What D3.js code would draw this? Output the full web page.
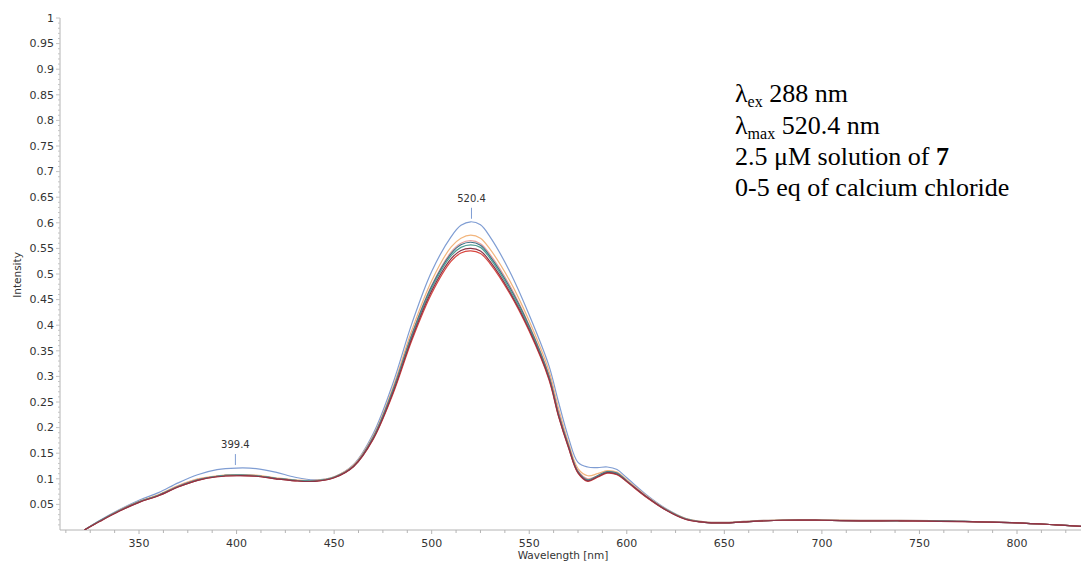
<!DOCTYPE html>
<html>
<head>
<meta charset="utf-8">
<script src="https://cdn.jsdelivr.net/npm/d3@7"></script>
<style>
  body { margin: 0; background: #fff; }
  svg { display: block; }
  .tick-label { font-family: "DejaVu Sans", Verdana, sans-serif; font-size: 11px; fill: #333; }
  .axis-title { font-family: "DejaVu Sans", Verdana, sans-serif; font-size: 10.5px; fill: #333; }
  .note text { font-family: "Liberation Serif", "Times New Roman", serif; font-size: 26px; fill: #000; }
</style>
</head>
<body>
<div id="chart"></div>
<script>
"use strict";

var wavelengths = [322, 330, 340, 350, 360, 370, 380, 390, 400, 410, 420, 430, 440, 450, 460, 470, 480, 490, 500, 510,
  515, 520, 525, 530, 540, 550, 560, 565, 570, 575, 580, 585, 590, 595, 600, 610, 620, 630, 640, 650,
  660, 680, 700, 720, 740, 760, 780, 800, 820, 833];

// intensity for each titration step (0-5 eq CaCl2)
var blueSeries = [0, .019, .040, .058, .073, .092, .108, .118, .121, .120, .113, .103, .098, .104, .128, .188, .285, .405, .505, .573,
  .595, .602, .596, .572, .505, .420, .322, .250, .182, .132, .123, .122, .123, .118, .102, .069, .042, .023, .016, .015,
  .017, .020, .020, .019, .019, .018, .016, .014, .010, .007];
var orangeSeries = [0, .018, .039, .056, .069, .087, .100, .106, .108, .107, .102, .098, .097, .104, .127, .184, .277, .392, .487, .553,
  .570, .576, .570, .548, .487, .408, .312, .238, .172, .120, .106, .110, .116, .113, .098, .067, .041, .023, .016, .015,
  .017, .020, .020, .019, .019, .018, .016, .014, .010, .007];
var pinkSeries = [0, .018, .038, .055, .068, .086, .099, .105, .107, .106, .101, .097, .096, .103, .126, .182, .273, .385, .478, .543,
  .560, .565, .559, .538, .478, .400, .305, .232, .168, .116, .100, .106, .114, .111, .096, .066, .040, .022, .015, .014,
  .016, .019, .019, .018, .018, .018, .016, .014, .010, .007];
var slateSeries = [0, .018, .038, .055, .068, .085, .098, .105, .107, .106, .101, .097, .096, .103, .125, .181, .272, .383, .476, .540,
  .557, .562, .556, .534, .474, .398, .302, .227, .166, .114, .098, .106, .114, .111, .096, .065, .040, .022, .015, .014,
  .016, .019, .019, .018, .018, .018, .016, .014, .010, .007];
var tealSeries = [0, .018, .038, .055, .068, .085, .098, .105, .107, .106, .101, .097, .096, .103, .125, .180, .270, .380, .472, .536,
  .552, .557, .552, .530, .470, .395, .300, .225, .165, .113, .097, .105, .113, .110, .095, .065, .040, .022, .015, .014,
  .016, .019, .019, .018, .018, .018, .016, .014, .010, .007];
var redSeries = [0, .017, .037, .054, .067, .084, .097, .104, .106, .105, .100, .096, .095, .102, .124, .177, .264, .372, .462, .525,
  .541, .545, .540, .520, .462, .388, .295, .222, .162, .111, .095, .103, .111, .108, .094, .064, .039, .021, .015, .014,
  .016, .019, .019, .018, .018, .017, .016, .014, .010, .007];
var maroonSeries = [0, .017, .037, .054, .067, .084, .097, .104, .106, .105, .100, .096, .095, .102, .124, .178, .267, .376, .467, .530,
  .546, .550, .545, .524, .465, .391, .297, .223, .163, .112, .096, .104, .112, .109, .095, .065, .039, .021, .015, .014,
  .016, .019, .019, .018, .018, .017, .016, .014, .010, .007];

var seriesColors = ["#7f9dd3", "#f2b57c", "#e9a09c", "#3f6f86", "#4f9e93", "#d9463f", "#8a3347"];

var yTickValues = [0.05, 0.1, 0.15, 0.2, 0.25, 0.3, 0.35, 0.4, 0.45, 0.5, 0.55, 0.6, 0.65, 0.7, 0.75, 0.8, 0.85, 0.9, 0.95, 1];
var xTickValues = [350, 400, 450, 500, 550, 600, 650, 700, 750, 800];

// peak markers
var peakLabels = [{ wl: 520.4, value: 0.602, text: "520.4" }, { wl: 399.4, value: 0.121, text: "399.4" }];

var width = 1081, height = 562;
var plot = { left: 60, right: 1081, top: 18, bottom: 530 };

var svg = d3.select("#chart")
  .append("svg")
  .attr("width", width)
  .attr("height", height);

var x = d3.scaleLinear().domain([309.5, 832.8]).range([plot.left, plot.right]);
var y = d3.scaleLinear().domain([0, 1]).range([plot.bottom, plot.top]);

// axes
var xAxis = svg.append("g").attr("transform", "translate(0," + plot.bottom + ")");
xAxis.append("line")
  .attr("x1", plot.left).attr("x2", plot.right)
  .attr("stroke", "#b4b4b4");
var xMinor = d3.range(312.5, 833, 12.5);
xAxis.selectAll("line.minor")
  .data(xMinor)
  .enter()
  .append("line")
  .attr("class", "minor")
  .attr("x1", function(d) { return x(d); })
  .attr("x2", function(d) { return x(d); })
  .attr("y1", 0)
  .attr("y2", function(d) { return d % 50 === 0 ? 4 : 3; })
  .attr("stroke", "#b4b4b4");
xAxis.selectAll("text")
  .data(xTickValues)
  .enter()
  .append("text")
  .attr("class", "tick-label")
  .attr("x", function(d) { return x(d); })
  .attr("y", 17)
  .attr("text-anchor", "middle")
  .text(function(d) { return d; });

var yAxis = svg.append("g").attr("transform", "translate(" + plot.left + ",0)");
yAxis.append("line")
  .attr("y1", plot.top).attr("y2", plot.bottom)
  .attr("stroke", "#b4b4b4");
var yMinor = d3.range(1, 101).map(function(i) { return i / 100; });
yAxis.selectAll("line.minor")
  .data(yMinor)
  .enter()
  .append("line")
  .attr("class", "minor")
  .attr("y1", function(d) { return y(d); })
  .attr("y2", function(d) { return y(d); })
  .attr("x1", function(d, i) { return (i + 1) % 5 === 0 ? -4 : -2; })
  .attr("x2", 0)
  .attr("stroke", "#c4c4c4");
yAxis.selectAll("text")
  .data(yTickValues)
  .enter()
  .append("text")
  .attr("class", "tick-label")
  .attr("x", -6)
  .attr("y", function(d) { return y(d); })
  .attr("dy", "0.35em")
  .attr("text-anchor", "end")
  .text(function(d) { return +d.toFixed(2); });

svg.append("text")
  .attr("class", "axis-title")
  .attr("x", 563).attr("y", 559)
  .attr("text-anchor", "middle")
  .text("Wavelength [nm]");
svg.append("text")
  .attr("class", "axis-title")
  .attr("transform", "translate(21,275) rotate(-90)")
  .attr("text-anchor", "middle")
  .text("Intensity");

// spectra
var allSeries = [blueSeries, orangeSeries, pinkSeries, slateSeries, tealSeries, redSeries, maroonSeries];
var line = d3.line()
  .x(function(d) { return x(d[0]); })
  .y(function(d) { return y(d[1]); })
  .curve(d3.curveCatmullRom.alpha(0.5));

svg.append("defs").append("clipPath").attr("id", "clip")
  .append("rect")
  .attr("x", plot.left).attr("y", plot.top)
  .attr("width", plot.right - plot.left).attr("height", plot.bottom - plot.top);

svg.append("g")
  .attr("clip-path", "url(#clip)")
  .selectAll("path")
  .data(allSeries)
  .enter()
  .append("path")
  .attr("d", function(s) { return line(d3.zip(wavelengths, s)); })
  .attr("fill", "none")
  .attr("stroke", function(d, i) { return seriesColors[i]; })
  .attr("stroke-width", 1.2);

// peak annotations
var peaks = svg.selectAll("g.peak")
  .data(peakLabels)
  .enter()
  .append("g")
  .attr("class", "peak");
peaks.append("line")
  .attr("x1", function(d) { return x(d.wl); })
  .attr("x2", function(d) { return x(d.wl); })
  .attr("y1", function(d) { return y(d.value) - 14; })
  .attr("y2", function(d) { return y(d.value) - 3; })
  .attr("stroke", "#7f9dd3");
peaks.append("text")
  .attr("class", "tick-label")
  .attr("x", function(d) { return x(d.wl); })
  .attr("y", function(d) { return y(d.value) - 20; })
  .attr("text-anchor", "middle")
  .style("font-size", "10px")
  .text(function(d) { return d.text; });

// experiment notes
var notes = svg.append("g").attr("class", "note").attr("transform", "translate(735,0)");
var n1 = notes.append("text").attr("y", 102);
n1.append("tspan").text("λ");
n1.append("tspan").attr("dy", 5).style("font-size", "16px").text("ex");
n1.append("tspan").attr("dy", -5).text(" 288 nm");
var n2 = notes.append("text").attr("y", 134);
n2.append("tspan").text("λ");
n2.append("tspan").attr("dy", 5).style("font-size", "16px").text("max");
n2.append("tspan").attr("dy", -5).text(" 520.4 nm");
var n3 = notes.append("text").attr("y", 165);
n3.append("tspan").text("2.5 μM solution of ");
n3.append("tspan").style("font-weight", "bold").text("7");
notes.append("text").attr("y", 196).text("0-5 eq of calcium chloride");
</script>
</body>
</html>
